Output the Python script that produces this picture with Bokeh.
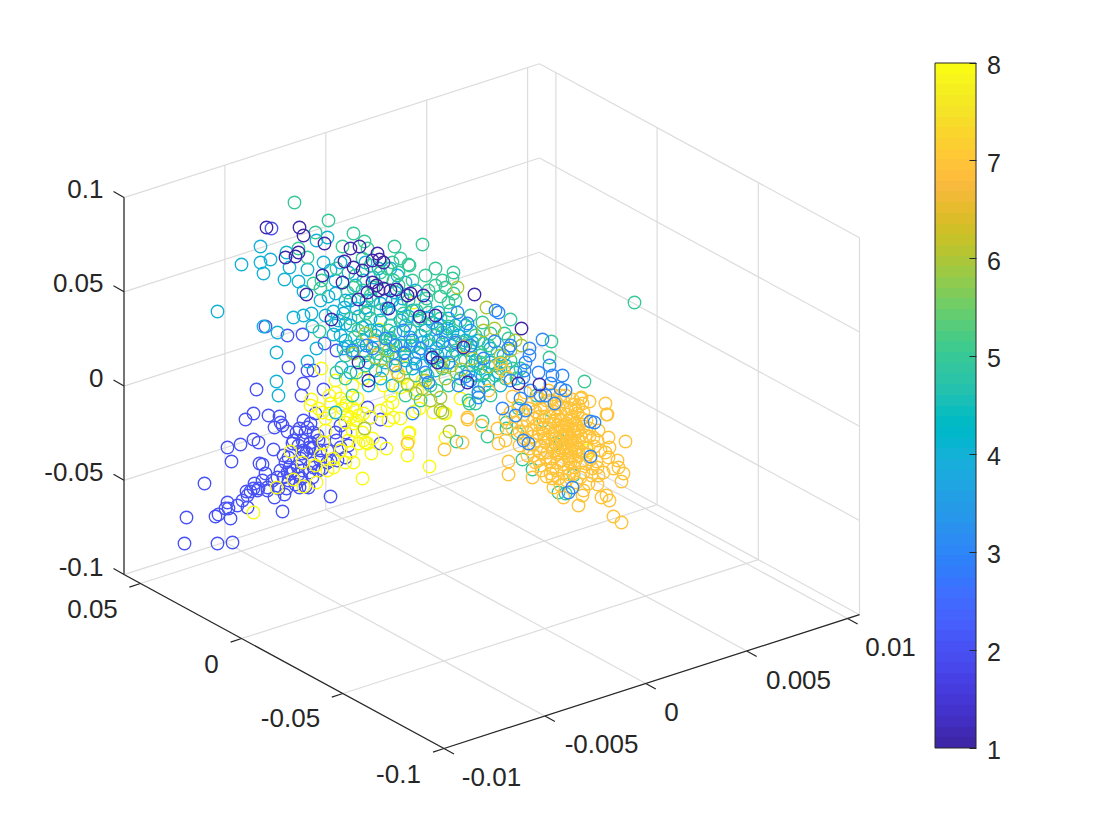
from bokeh.plotting import figure
from bokeh.models import Range1d, ColorBar, LinearColorMapper, FixedTicker, ColumnDataSource
from bokeh.core.properties import value
from bokeh.embed import file_html
from bokeh.resources import INLINE

# Tick values of the three axes and of the colour bar
x_ticks = [-0.01, -0.005, 0, 0.005, 0.01]
y_ticks = [-0.1, -0.05, 0, 0.05]
z_ticks = [-0.1, -0.05, 0, 0.05, 0.1]
x_labels = ["-0.01", "-0.005", "0", "0.005", "0.01"]
y_labels = ["-0.1", "-0.05", "0", "0.05"]
z_labels = ["-0.1", "-0.05", "0", "0.05", "0.1"]
x_limits = (-0.01, 0.01059)
y_limits = (-0.1, 0.0581)
z_limits = (-0.1, 0.1)
cbar_ticks = [1, 2, 3, 4, 5, 6, 7, 8]

# Points, in its view plane, per class
class_1 = [(266,227),(299,227),(303,235),(324,243),(285,257),(298,252),(295,256),(306,294),(331,319),(342,282),(322,275),(344,261),(350,248),(359,246),(377,253),(379,259),(372,260),(353,267),(362,270),(383,288),(390,290),(376,285),(358,299),(367,292),(407,295),(388,308),(474,294),(521,328),(467,382),(437,362),(432,357),(410,293),(423,295),(419,316),(435,315),(463,347),(518,383),(539,384),(368,380),(358,362),(378,290),(383,262),(372,282),(396,289)]
class_2 = [(271,228),(288,367),(256,389),(303,383),(301,395),(323,389),(315,413),(307,370),(313,370),(253,413),(245,419),(268,415),(279,416),(280,422),(274,427),(282,425),(287,431),(303,420),(310,423),(299,428),(307,427),(313,432),(317,435),(310,442),(302,440),(293,440),(292,443),(253,439),(258,442),(227,447),(240,444),(273,449),(231,461),(259,463),(262,464),(265,473),(285,462),(288,457),(289,467),(287,472),(283,477),(288,480),(277,477),(302,453),(303,450),(312,448),(313,447),(323,442),(327,450),(330,460),(335,432),(340,425),(345,432),(340,447),(348,445),(345,457),(337,460),(367,407),(370,417),(380,419),(380,443),(312,463),(313,467),(302,470),(312,477),(305,486),(308,487),(330,496),(282,511),(274,497),(267,487),(267,490),(254,483),(253,488),(246,491),(250,491),(247,495),(257,490),(258,488),(227,502),(228,508),(237,505),(247,507),(218,514),(215,516),(225,508),(230,518),(186,517),(204,483),(184,543),(217,543),(232,542),(298,445),(306,452),(309,447),(318,440),(293,470),(297,466),(301,478),(295,484),(299,487),(283,455),(290,473),(278,488),(272,480),(320,460),(327,462),(318,470),(286,488),(265,326),(287,335),(302,334),(324,343),(336,350),(403,353),
    (296,432),(305,432),(320,450),(300,458),(298,474),(309,472),(336,440),(322,468),(280,470),(284,494),(262,480),(242,500)]
class_3 = [(498,312),(495,310),(467,323),(457,312),(494,341),(508,348),(510,345),(529,348),(529,355),(525,362),(524,370),(523,377),(542,339),(549,365),(562,375),(552,375),(550,383),(565,390),(560,388),(425,372),(428,382),(415,363),(430,354),(404,352),(412,340),(442,342),(455,342),(470,345),(483,358),(470,380),(458,385),(465,376),(510,380),(478,397),(502,408),(478,392),(538,372),(540,395),(530,390),(520,398),(554,403),(545,395),(525,410),(515,415),(412,413),(590,421),(594,422),(590,456),(572,487),(568,492),(523,440),(528,443),(395,345),(385,338),(372,348),(395,365),(420,348),(437,328),(448,362),(403,330),(352,350),(366,345)]
class_4 = [(260,246),(241,264),(260,262),(270,259),(263,273),(286,252),(289,267),(307,269),(284,279),(298,281),(303,291),(323,262),(316,240),(327,237),(217,311),(293,317),(303,315),(311,313),(312,326),(263,326),(277,332),(276,352),(333,334),(316,348),(307,361),(333,311),(344,307),(343,313),(345,323),(338,320),(328,296),(335,293),(330,270),(348,346),(362,327),(370,330),(363,280),(373,277),(390,268),(397,275),(365,307),(343,348),(410,337),(400,320),(390,313),(380,303),(276,381),(278,395),(341,367),(368,385),(335,412),(418,320),(425,330),(432,322),(410,345),(418,352),(428,340),(436,348),(445,335),(450,345),(458,335),(465,340),(452,355),(460,360),(470,350),(475,360),(443,362),(435,370),(468,372),(480,368),(490,362),(498,372),(505,365),(515,372),(488,380),(478,385),(500,385),(420,335),(405,325),(395,332),(385,345),(378,330),(400,345),(412,368),(405,360),(393,352),(385,362),(375,370),(365,355),(358,345),(350,325),(358,316),(370,318),(380,320),(392,300),(400,305),(412,310),(425,305),(438,312),(448,318),(455,325),(470,330),(415,290),(405,282),(395,292),(385,300),(372,300),(440,325),(430,358),(422,365),(350,300),(356,308),(465,325),(478,340),(490,348),(503,355),(345,340),(335,325),(320,300),
    (422,342),(438,340),(455,340),(472,342),(447,328),(408,316),(386,308),(366,300),(402,298),(428,318),(452,332),(472,365),(495,365),(482,375),(437,355),(414,358),(390,338),
    (340,262),(348,272),(335,280),(355,285),(365,262),(378,268),(345,300),(325,315),(340,335),(352,352),(362,340),(375,335),(350,372),(368,362),(380,378),(392,385)]
class_5 = [(294,202),(328,220),(315,232),(353,233),(394,246),(364,241),(342,246),(298,248),(307,257),(313,283),(321,280),(320,288),(336,268),(367,248),(362,258),(408,264),(347,292),(353,287),(319,331),(365,313),(354,337),(390,340),(378,353),(387,355),(363,350),(403,313),(387,268),(393,280),(382,277),(373,287),(634,302),(510,319),(504,333),(551,341),(490,333),(508,338),(549,357),(584,381),(522,459),(532,469),(558,492),(565,493),(487,436),(456,441),(469,403),(482,421),(506,422),(506,428),(517,433),(543,420),(555,443),(560,440),(573,475),(448,302),(453,293),(435,285),(445,287),(408,300),(416,310),(428,312),(440,318),(450,310),(460,320),(470,315),(482,322),(475,335),(465,345),(455,350),(445,352),(435,335),(425,325),(410,330),(402,318),(390,325),(380,310),(370,295),(362,290),(355,275),(370,265),(380,272),(392,262),(400,258),(412,280),(425,275),(435,268),(453,272),(452,278),(442,280),(422,244),(409,265),(398,272),(428,290),(440,296),(455,300),(465,360),(475,375),(485,372),(495,375),(505,378),(512,368),(480,355),(488,345),(497,352),(510,360),(520,368),(500,368),(478,392),(490,395),(468,400),(475,403),(456,372),(448,385),(436,390),(427,375),(415,375),(405,368),(395,358),(385,348),(375,340),(365,325),(358,330),(350,318),(380,360),(392,342),(405,345),(430,345),(442,368),(352,395),(365,365),(345,355),(336,372),(345,378),(356,372),(483,343),(480,352),
    (442,332),(462,342),(480,362),(500,362),(516,378),(484,385),(460,378),(438,362),(414,345),(388,330),(368,310),(398,285),(426,298),(448,326),(420,318),(536,395),(518,408),(405,395),(420,400),(430,385)]
class_6 = [(486,307),(483,330),(494,328),(515,340),(521,345),(382,370),(375,357),(393,365),(449,431),(442,412),(407,384),(415,393),(422,388),(445,378),(461,369),(451,365),(364,428),(440,365),(430,400),(510,350),(500,355),(440,397),(425,380),(353,353),(365,333),(457,287),(440,410),(398,375),(388,350),(472,358),(488,366)]
class_7 = [(467,419),(481,425),(444,449),(462,442),(497,428),(498,443),(505,440),(508,461),(508,474),(532,477),(538,460),(550,462),(550,473),(553,487),(563,497),(578,505),(582,495),(583,490),(597,484),(588,483),(613,516),(621,522),(601,497),(606,495),(609,500),(621,481),(623,473),(617,460),(608,457),(605,452),(609,447),(625,441),(608,437),(605,403),(606,414),(581,397),(589,401),(570,408),(577,413),(597,440),(600,450),(603,472),(598,475),(618,467),(613,468),(597,467),(583,472),(573,473),(580,398),(582,403),(607,414),(373,343),(397,372),(407,443),(455,342),(463,346),(500,363),(503,370),(507,377),(488,390),(467,417),
    (512,396),(525,392),(537,398),(548,390),(560,395),(572,399),(518,405),(531,403),(544,407),(556,402),(566,408),(578,405),(510,412),(523,414),(535,411),(549,416),(560,413),(571,417),(583,412),(515,422),(527,420),(540,424),(553,421),(564,426),(575,423),(586,420),(519,431),(531,429),(543,433),(555,430),(566,434),(577,431),(589,428),(598,430),(524,438),(536,440),(548,437),(559,441),(570,438),(582,442),(593,437),(529,448),(541,446),(553,450),(564,447),(575,451),(586,448),(533,455),(545,457),(557,454),(568,458),(579,455),(590,459),(540,465),(552,468),(563,464),(574,467),(585,463),(596,461),(546,476),(558,478),(569,474),(580,477),(591,475),(560,485),
    (555,420),(558,425),(562,430),(566,423),(570,428),(560,436),(565,442),(572,445),(562,450),(568,455),(574,435),(578,428),(556,445),(552,434),(548,428),(572,420),(566,414),(558,407),(550,400),(563,401),(575,410),(545,442),(538,433),(534,418),(528,408),(522,426),(578,440),(568,468),(575,460),(582,452),(561,460),(556,470),(551,444),(547,452),(544,416),(540,408),(575,442),(567,437),(563,444),(569,448),(559,447),(565,432),(561,426),(557,416),(553,411),(571,452),(576,447),(570,462),(585,435),
    (568,425),(573,430),(576,425),(560,420),(563,436),(571,440),(580,435),(583,426),(566,450),(572,456),(578,449),(558,452),(554,438),(549,424),(543,428),(536,424),(532,436),(527,432),(539,416),(546,400),(552,394),(565,395),(574,404),(581,418),(589,436),(594,446),(587,454),(580,462),(564,472),(552,478),(541,470),(535,462),(527,455),(519,445),(512,428),(505,418),(540,452),(550,458),(544,438),(533,444),(592,468),(576,482),(566,480),(557,462)]
class_8 = [(321,368),(335,380),(311,399),(335,392),(346,402),(352,407),(347,415),(357,398),(363,378),(383,385),(392,402),(387,407),(393,417),(400,418),(408,433),(407,455),(371,453),(386,448),(362,478),(353,462),(365,442),(358,443),(340,450),(333,458),(333,467),(323,442),(325,418),(302,462),(315,465),(316,482),(303,486),(293,479),(276,487),(253,512),(290,451),(342,408),(350,417),(353,423),(345,422),(363,413),(370,417),(363,440),(367,443),(330,403),(340,398),(379,329),(404,355),(429,466),(409,432),(408,441),(445,437),(460,398),(444,413),(587,450),(318,408),(329,413),(345,405),(355,410),(356,420),(348,440),(352,385),(390,395),(414,411),(419,408),(400,387),(408,385),(422,380),(417,390),(445,413),(433,412),(403,377),(413,302),
    (358,415),(352,430),(362,432),(372,438),(350,452),(325,430),(320,455),(327,470),(345,462),(310,405),(322,412),(380,410),(388,420),(329,395)]

draw_order = [(2, class_2), (8, class_8), (4, class_4), (5, class_5), (6, class_6), (7, class_7), (3, class_3), (1, class_1)]

parula_rgb = [(0.2422,0.1504,0.6603),(0.2504,0.1650,0.7076),(0.2578,0.1818,0.7511),(0.2647,0.1978,0.7952),(0.2706,0.2147,0.8364),(0.2751,0.2342,0.8710),(0.2783,0.2559,0.8991),(0.2803,0.2782,0.9221),(0.2813,0.3006,0.9414),(0.2810,0.3228,0.9579),(0.2795,0.3447,0.9717),(0.2760,0.3667,0.9829),(0.2699,0.3892,0.9906),(0.2602,0.4123,0.9952),(0.2440,0.4358,0.9988),(0.2206,0.4603,0.9973),(0.1963,0.4847,0.9892),(0.1834,0.5074,0.9798),(0.1786,0.5289,0.9682),(0.1764,0.5499,0.9520),(0.1687,0.5703,0.9359),(0.1540,0.5902,0.9218),(0.1460,0.6091,0.9079),(0.1380,0.6276,0.8973),(0.1248,0.6459,0.8883),(0.1113,0.6635,0.8763),(0.0952,0.6798,0.8598),(0.0689,0.6948,0.8394),(0.0297,0.7082,0.8163),(0.0036,0.7203,0.7917),(0.0067,0.7312,0.7660),(0.0433,0.7411,0.7394),(0.0964,0.7500,0.7120),(0.1408,0.7584,0.6842),(0.1717,0.7670,0.6554),(0.1938,0.7758,0.6251),(0.2161,0.7843,0.5923),(0.2470,0.7918,0.5567),(0.2906,0.7973,0.5188),(0.3406,0.8008,0.4789),(0.3909,0.8029,0.4354),(0.4456,0.8024,0.3909),(0.5044,0.7993,0.3480),(0.5616,0.7942,0.3045),(0.6174,0.7876,0.2612),(0.6720,0.7793,0.2227),(0.7242,0.7698,0.1910),(0.7738,0.7598,0.1646),(0.8203,0.7498,0.1535),(0.8634,0.7406,0.1596),(0.9035,0.7330,0.1774),(0.9393,0.7288,0.2100),(0.9728,0.7298,0.2394),(0.9956,0.7434,0.2371),(0.9970,0.7659,0.2199),(0.9952,0.7893,0.2028),(0.9892,0.8136,0.1885),(0.9786,0.8386,0.1766),(0.9676,0.8639,0.1643),(0.9610,0.8890,0.1537),(0.9597,0.9135,0.1423),(0.9628,0.9373,0.1265),(0.9691,0.9606,0.1064),(0.9769,0.9839,0.0805)]
parula = ["#%02x%02x%02x" % tuple(round(c * 255) for c in rgb) for rgb in parula_rgb]


def project(x, y, z):
    """Orthographic view of the 3-D axes box onto the picture plane."""
    u = (x + 0.01) / 0.005
    v = (y + 0.1) / 0.05
    w = (z + 0.1) / 0.05
    return 443.5 + 100.9 * u - 101.2 * v, 748 - 32.5 * u - 55 * v - 94.25 * w


def seg(a, b):
    pa, pb = project(*a), project(*b)
    return pa[0], pa[1], pb[0], pb[1]


p = figure(width=1104, height=824, x_range=Range1d(0, 1104), y_range=Range1d(824, 0),
           toolbar_location=None, output_backend="svg", min_border=0,
           x_axis_type=None, y_axis_type=None, outline_line_color=None)
p.grid.visible = False

xmin, xmax = x_limits
ymin, ymax = y_limits
zmin, zmax = z_limits

grid = []
for t in x_ticks:
    grid.append(seg((t, ymax, zmin), (t, ymax, zmax)))
    grid.append(seg((t, ymin, zmin), (t, ymax, zmin)))
for t in y_ticks:
    grid.append(seg((xmax, t, zmin), (xmax, t, zmax)))
    grid.append(seg((xmin, t, zmin), (xmax, t, zmin)))
for t in z_ticks:
    grid.append(seg((xmin, ymax, t), (xmax, ymax, t)))
    grid.append(seg((xmax, ymin, t), (xmax, ymax, t)))
g = list(zip(*grid))
p.segment(g[0], g[1], g[2], g[3], line_color="#dcdcdc", line_width=1.2)

# scatter
for cls, pts in draw_order:
    src = ColumnDataSource(dict(x=[q[0] for q in pts], y=[q[1] for q in pts], c=[cls] * len(pts)))
    mapper = LinearColorMapper(palette=parula, low=1, high=8)
    p.scatter("x", "y", source=src, marker="circle", size=12.5, line_width=1.35, fill_color=None,
              line_color={"field": "c", "transform": mapper})

# axis lines and ticks
axes = [seg((xmin, ymin, zmin), (xmax, ymin, zmin)),
        seg((xmin, ymin, zmin), (xmin, ymax, zmin)),
        seg((xmin, ymax, zmin), (xmin, ymax, zmax))]
tick_x0, tick_y0, tick_x1, tick_y1 = [], [], [], []
for t in x_ticks:
    a = project(t, ymin, zmin)
    tick_x0.append(a[0]); tick_y0.append(a[1]); tick_x1.append(a[0] + 10); tick_y1.append(a[1] + 5.5)
for t in y_ticks:
    a = project(xmin, t, zmin)
    tick_x0.append(a[0]); tick_y0.append(a[1]); tick_x1.append(a[0] - 11); tick_y1.append(a[1] + 3.6)
for t in z_ticks:
    a = project(xmin, ymax, t)
    tick_x0.append(a[0]); tick_y0.append(a[1]); tick_x1.append(a[0] - 10.5); tick_y1.append(a[1] - 6)
ax = list(zip(*axes))
p.segment(ax[0], ax[1], ax[2], ax[3], line_color="#262626", line_width=1.2)
p.segment(tick_x0, tick_y0, tick_x1, tick_y1, line_color="#262626", line_width=1.2)

# tick labels
FONT = value("Liberation Sans")
xl_px = [(491, 776), (601, 743), (671, 711), (798, 679), (890, 646)]
yl_px = [(398, 773), (290, 717), (211, 663), (92, 608)]
for labels, pos in ((x_labels, xl_px), (y_labels, yl_px)):
    p.text([q[0] for q in pos], [q[1] for q in pos], text=labels, text_font=FONT, text_font_size="26px",
           text_color="#262626", text_align="center", text_baseline="middle")
zl_px = [566, 471, 377, 282, 188]
p.text([103] * 5, zl_px, text=z_labels, text_font=FONT, text_font_size="26px", text_color="#262626",
       text_align="right", text_baseline="middle")

cb_mapper = LinearColorMapper(palette=parula, low=1, high=8)
cb = ColorBar(color_mapper=cb_mapper, ticker=FixedTicker(ticks=cbar_ticks), location=(934.5, 76.5),
              width=41, height=685, padding=0, margin=0,
              major_tick_in=7, major_tick_out=0, major_tick_line_color="#262626", major_tick_line_width=1,
              minor_tick_line_color=None, bar_line_color="#262626", bar_line_width=1,
              major_label_overrides={t: "" for t in cbar_ticks},
              background_fill_color=None, border_line_color=None)
p.add_layout(cb, "center")
p.text([986.5] * 8, [749.5 - (t - 1) * 97.9 for t in cbar_ticks], text=[str(t) for t in cbar_ticks], text_font=FONT,
       text_font_size="25px", text_color="#262626", text_align="left", text_baseline="middle")

open("out.html", "w").write(file_html(p, INLINE))
